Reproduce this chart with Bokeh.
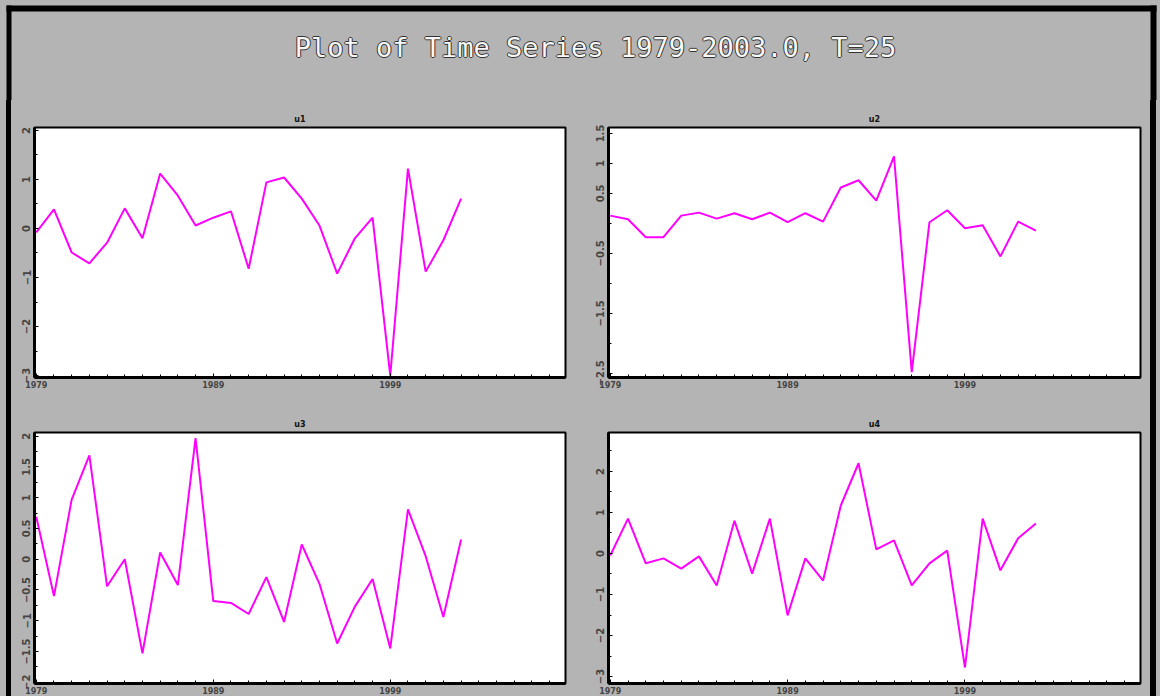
from bokeh.plotting import figure
from bokeh.layouts import column, row
from bokeh.models import FixedTicker, Label, BoxAnnotation, Range1d
from bokeh.embed import file_html
from bokeh.resources import INLINE

# ---------------- data ----------------
years = list(range(1979, 2004))
u1 = [-0.08, 0.39, -0.49, -0.71, -0.29, 0.41, -0.20, 1.12, 0.67, 0.06, 0.22, 0.35, -0.82,
      0.94, 1.04, 0.61, 0.06, -0.92, -0.20, 0.22, -3.00, 1.22, -0.88, -0.24, 0.61]
u2 = [0.13, 0.07, -0.23, -0.23, 0.13, 0.18, 0.08, 0.17, 0.07, 0.18, 0.02, 0.17, 0.03,
      0.60, 0.72, 0.38, 1.12, -2.48, 0.02, 0.22, -0.08, -0.03, -0.55, 0.03, -0.12]
u3 = [0.69, -0.60, 0.97, 1.69, -0.44, 0.00, -1.53, 0.11, -0.42, 1.97, -0.68, -0.71, -0.89,
      -0.29, -1.02, 0.24, -0.40, -1.37, -0.77, -0.32, -1.45, 0.81, 0.05, -0.94, 0.32]
u4 = [-0.05, 0.85, -0.24, -0.12, -0.37, -0.07, -0.78, 0.80, -0.49, 0.85, -1.51, -0.12, -0.66,
      1.17, 2.20, 0.10, 0.32, -0.78, -0.24, 0.07, -2.78, 0.85, -0.41, 0.37, 0.73]
series_names = ["u1", "u2", "u3", "u4"]
main_title = "Plot of Time Series 1979-2003.0, T=25"
x_major = [1979, 1989, 1999]
x_minor = list(range(1979, 2010))
y_ticks = {
    "u1": [2, 1, 0, -1, -2, -3],
    "u2": [1.5, 1.0, 0.5, -0.5, -1.5, -2.5],
    "u3": [2.0, 1.5, 1.0, 0.5, 0.0, -0.5, -1.0, -1.5, -2.0],
    "u4": [3, 2, 1, 0, -1, -2, -3],
}
y_minor = {
    "u1": [v / 2 for v in range(-6, 5)],
    "u2": [v / 2 for v in range(-5, 4)],
    "u3": [v / 4 for v in range(-8, 9)],
    "u4": [v / 2 for v in range(-6, 7)],
}
y_ranges = {"u1": (-3.04, 2.06), "u2": (-2.57, 1.60), "u3": (-2.02, 2.06), "u4": (-3.17, 2.95)}
# --------------------------------------

GRAY = "#b4b4b4"
MAGENTA = "#ff00ff"


def page_frame(x0, x1, width):
    # CSS background carrying the black outer page frame lines for one figure
    return ("linear-gradient(to right, " + GRAY + " 0px, " + GRAY + f" {x0}px, #000000 {x0}px, "
            f"#000000 {x1}px, " + GRAY + f" {x1}px, " + GRAY + f" {width}px)")


def panel(name, vals, width, height, mbl, mbr, mbt, mbb, fx0, fx1):
    p = figure(width=width, height=height, output_backend="svg", toolbar_location=None,
               x_range=Range1d(1978.9, 2008.9), y_range=Range1d(*y_ranges[name]),
               min_border_left=mbl, min_border_right=mbr, min_border_top=mbt,
               min_border_bottom=mbb, title=name,
               styles={"background": page_frame(fx0, fx1, width)})
    p.title.align = "center"
    p.title.text_font = "DejaVu Sans"
    p.title.text_font_size = "8px"
    p.title.text_font_style = "bold"
    p.title.text_color = "#111111"
    p.title.standoff = 8
    p.background_fill_color = "white"
    p.border_fill_alpha = 0
    p.outline_line_color = "black"
    p.outline_line_width = 2
    p.grid.visible = False
    p.line(years, vals, line_color=MAGENTA, line_width=2)

    xa = p.xaxis[0]
    xa.ticker = FixedTicker(ticks=x_major, minor_ticks=x_minor)
    xa.major_tick_in = 4
    xa.major_tick_out = 0
    xa.minor_tick_in = 3
    xa.minor_tick_out = 0
    xa.axis_line_width = 3
    xa.major_label_text_font = "DejaVu Sans"
    xa.major_label_text_font_size = "8px"
    xa.major_label_text_font_style = "bold"
    xa.major_label_standoff = 3

    ya = p.yaxis[0]
    ya.ticker = FixedTicker(ticks=y_ticks[name], minor_ticks=y_minor[name])
    ya.major_tick_in = 4
    ya.major_tick_out = 0
    ya.minor_tick_in = 3
    ya.minor_tick_out = 0
    ya.axis_line_width = 3
    ya.major_label_orientation = "vertical"
    ya.major_label_text_font = "DejaVu Sans"
    ya.major_label_text_font_size = "10px"
    ya.major_label_text_font_style = "bold"
    ya.major_label_standoff = 4
    return p


# title strip
t = figure(width=1160, height=100, output_backend="svg", toolbar_location=None,
           x_range=Range1d(0, 1160), y_range=Range1d(0, 100),
           min_border=0, min_border_left=0, min_border_right=0,
           min_border_top=0, min_border_bottom=0)
t.axis.visible = False
t.grid.visible = False
t.outline_line_color = None
t.background_fill_color = GRAY
t.border_fill_color = GRAY
t.add_layout(BoxAnnotation(left=6, right=1156, bottom=89, top=95,
                           fill_color="black", fill_alpha=1, line_alpha=0))
t.add_layout(BoxAnnotation(left=6, right=11, bottom=0, top=95,
                           fill_color="black", fill_alpha=1, line_alpha=0))
t.add_layout(BoxAnnotation(left=1150, right=1156, bottom=0, top=95,
                           fill_color="black", fill_alpha=1, line_alpha=0))
for dx, dy in [(-1, 0), (1, 0), (0, -1), (0, 1)]:
    t.add_layout(Label(x=595 + dx, y=53 + dy, text=main_title, text_align="center",
                       text_baseline="middle", text_font="DejaVu Sans Mono",
                       text_font_size="27px", text_color="#333333"))
t.add_layout(Label(x=595, y=53, text=main_title, text_align="center",
                   text_baseline="middle", text_font="DejaVu Sans Mono",
                   text_font_size="27px", text_color="#f8f8f8"))

p1 = panel("u1", u1, 585, 300, 34, 20, 27, 23, 6, 11)
p2 = panel("u2", u2, 575, 300, 23, 20, 27, 23, 565, 571)
p3 = panel("u3", u3, 585, 296, 34, 20, 32, 13, 6, 11)
p4 = panel("u4", u4, 575, 296, 23, 20, 32, 13, 565, 571)

layout = column(t, row(p1, p2), row(p3, p4), styles={"background-color": GRAY})
open("out.html", "w").write(file_html(layout, INLINE))
